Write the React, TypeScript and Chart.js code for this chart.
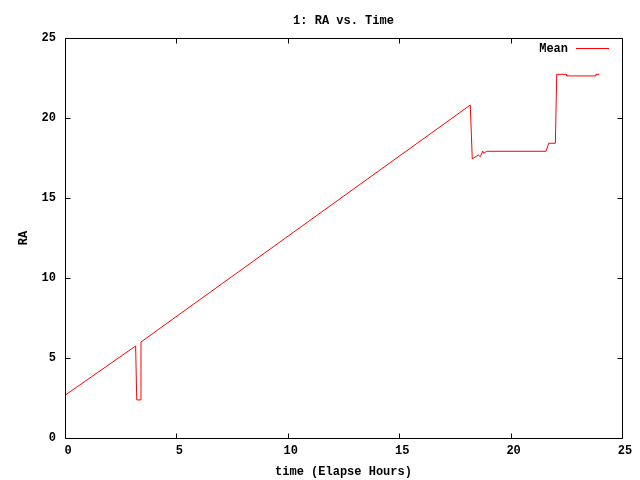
import { useEffect, useRef } from "react";
import { Chart, registerables } from "chart.js";

Chart.register(...registerables);

const TITLE = "1: RA vs. Time";
const X_LABEL = "time (Elapse Hours)";
const Y_LABEL = "RA";
const SERIES_NAME = "Mean";

const TIME_HOURS = [
  0, 3.17, 3.22, 3.4, 3.41, 18.19, 18.28, 18.55, 18.64, 18.75, 18.79, 18.93,
  21.59, 21.71, 22.01, 22.07, 22.49, 22.52, 23.79, 23.83, 23.98,
];
const RA_VALUES = [
  2.67, 5.75, 2.38, 2.38, 6.0, 20.81, 17.44, 17.69, 17.58, 17.94, 17.79, 17.92,
  17.92, 18.42, 18.42, 22.73, 22.73, 22.63, 22.63, 22.73, 22.73,
];

const X_TICKS = [0, 5, 10, 15, 20, 25];
const Y_TICKS = [0, 5, 10, 15, 20, 25];

const FONT_FAMILY = '"Liberation Mono", "DejaVu Sans Mono", monospace';
const FONT = { family: FONT_FAMILY, size: 12, weight: "bold" as const };
const FONT_CSS = `bold 12px ${FONT_FAMILY}`;

const gnuplotPlugin = {
  id: "gnuplotFrame",
  afterDatasetsDraw(chart: any) {
    const { ctx, chartArea: a, scales } = chart;
    const L = Math.round(a.left) + 0.5;
    const R = Math.round(a.right) + 0.5;
    const T = Math.round(a.top) + 0.5;
    const B = Math.round(a.bottom) + 0.5;
    const TICK = 5;
    ctx.save();
    ctx.strokeStyle = "#000";
    ctx.lineWidth = 1;
    ctx.beginPath();
    ctx.rect(L, T, R - L, B - T);
    ctx.stroke();
    ctx.beginPath();
    for (const v of X_TICKS) {
      const x = Math.round(scales.x.getPixelForValue(v)) + 0.5;
      ctx.moveTo(x, B);
      ctx.lineTo(x, B - TICK);
      ctx.moveTo(x, T);
      ctx.lineTo(x, T + TICK);
    }
    for (const v of Y_TICKS) {
      const y = Math.round(scales.y.getPixelForValue(v)) + 0.5;
      ctx.moveTo(L, y);
      ctx.lineTo(L + TICK, y);
      ctx.moveTo(R, y);
      ctx.lineTo(R - TICK, y);
    }
    ctx.stroke();

    // title
    ctx.fillStyle = "#000";
    ctx.font = FONT_CSS;
    ctx.textAlign = "center";
    ctx.textBaseline = "middle";
    ctx.fillText(TITLE, (a.left + a.right) / 2, a.top - 17.5);

    // legend (inside top-right)
    const ly = Math.round(a.top + 10) + 0.5;
    const lineEnd = a.right - 13;
    const lineStart = lineEnd - 33;
    ctx.textAlign = "right";
    ctx.fillText(chart.data.datasets[0].label, lineStart - 8, ly);
    ctx.strokeStyle = "#ff0000";
    ctx.beginPath();
    ctx.moveTo(lineStart, ly);
    ctx.lineTo(lineEnd, ly);
    ctx.stroke();
    ctx.restore();
  },
};

export default function App() {
  const ref = useRef<HTMLCanvasElement>(null);
  useEffect(() => {
    const canvas = ref.current!;
    const chart = new Chart(canvas, {
      type: "scatter",
      data: {
        datasets: [
          {
            label: SERIES_NAME,
            data: TIME_HOURS.map((t, i) => ({ x: t, y: RA_VALUES[i] })),
            showLine: true,
            borderColor: "#ff0000",
            backgroundColor: "#ff0000",
            borderWidth: 1,
            pointRadius: 0,
            tension: 0,
          },
        ],
      },
      options: {
        responsive: false,
        animation: false,
        devicePixelRatio: 1,
        layout: { padding: { top: 38, right: 18, left: 0, bottom: 0 } },
        plugins: {
          legend: { display: false },
          tooltip: { enabled: false },
          title: { display: false },
        },
        scales: {
          x: {
            type: "linear",
            min: 0,
            max: 25,
            afterBuildTicks: (s: any) => {
              s.ticks = X_TICKS.map((v) => ({ value: v }));
            },
            afterFit: (s: any) => {
              s.height = 42;
            },
            grid: { display: false, drawTicks: false },
            border: { display: false },
            ticks: {
              color: "#000",
              font: FONT,
              padding: 6,
              labelOffset: 3,
              maxRotation: 0,
              autoSkip: false,
            },
            title: {
              display: true,
              text: X_LABEL,
              color: "#000",
              font: FONT,
              padding: { top: 0, bottom: 1 },
            },
          },
          y: {
            type: "linear",
            min: 0,
            max: 25,
            afterBuildTicks: (s: any) => {
              s.ticks = Y_TICKS.map((v) => ({ value: v }));
            },
            afterFit: (s: any) => {
              s.width = 65;
            },
            grid: { display: false, drawTicks: false },
            border: { display: false },
            ticks: {
              color: "#000",
              font: FONT,
              padding: 9,
              autoSkip: false,
            },
            title: {
              display: true,
              text: Y_LABEL,
              color: "#000",
              font: FONT,
              padding: { top: 17, bottom: 0 },
            },
          },
        },
      },
      plugins: [gnuplotPlugin],
    });
    return () => chart.destroy();
  }, []);
  return (
    <div style={{ position: "absolute", left: 0, top: 0, width: 640, height: 480, background: "#fff" }}>
      <canvas ref={ref} width={640} height={480} style={{ display: "block" }} />
    </div>
  );
}
